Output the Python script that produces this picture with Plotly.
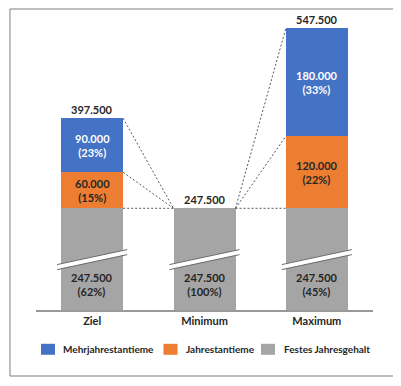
import plotly.graph_objects as go

# ---- data ----
categories = ["Ziel", "Minimum", "Maximum"]
festes_jahresgehalt = [247500, 247500, 247500]
jahrestantieme = [60000, 0, 120000]
mehrjahrestantieme = [90000, 0, 180000]
series_names = ["Mehrjahrestantieme", "Jahrestantieme", "Festes Jahresgehalt"]
axis_break = 78000          # amount hidden by the axis break in the grey segment
break_pos = 84000           # where the break mark is drawn (display units)

# ---- style ----
colors = {"Mehrjahrestantieme": "#4472C4", "Jahrestantieme": "#ED7D31", "Festes Jahresgehalt": "#A5A5A5"}
txt = "#262626"
font = "Lato"
fs = 11
bw = 0.552

def de(v):
    return f"{v:,}".replace(",", ".")

x = list(range(len(categories)))
totals = [a + b + c for a, b, c in zip(festes_jahresgehalt, jahrestantieme, mehrjahrestantieme)]
gray_disp = [v - axis_break for v in festes_jahresgehalt]

fig = go.Figure()
fig.add_bar(x=x, y=gray_disp, name="Festes Jahresgehalt", marker_color=colors["Festes Jahresgehalt"],
            width=bw, marker_line_width=0)
fig.add_bar(x=x, y=jahrestantieme, name="Jahrestantieme", marker_color=colors["Jahrestantieme"],
            width=bw, marker_line_width=0)
fig.add_bar(x=x, y=mehrjahrestantieme, name="Mehrjahrestantieme", marker_color=colors["Mehrjahrestantieme"],
            width=bw, marker_line_width=0)

ann = []
shapes = []
levels = []
for i in x:
    g = gray_disp[i]
    o = g + jahrestantieme[i]
    b = o + mehrjahrestantieme[i]
    levels.append([g, o, b])
    ann.append(dict(x=i, y=b, text=f"<b>{de(totals[i])}</b>", showarrow=False, yanchor="middle", yshift=9,
                    font=dict(family=font, size=fs, color=txt)))
    ann.append(dict(x=i, y=break_pos / 2, text=f"<b>{de(festes_jahresgehalt[i])}<br>({round(100*festes_jahresgehalt[i]/totals[i])}%)</b>",
                    showarrow=False, font=dict(family=font, size=fs, color=txt)))
    if jahrestantieme[i]:
        ann.append(dict(x=i, y=(g + o) / 2, text=f"<b>{de(jahrestantieme[i])}<br>({round(100*jahrestantieme[i]/totals[i])}%)</b>",
                        showarrow=False, font=dict(family=font, size=fs, color=txt)))
    if mehrjahrestantieme[i]:
        ann.append(dict(x=i, y=(o + b) / 2, text=f"<b>{de(mehrjahrestantieme[i])}<br>({round(100*mehrjahrestantieme[i]/totals[i])}%)</b>",
                        showarrow=False, font=dict(family=font, size=fs, color="white")))
    # break mark
    L = bw / 2 + 0.036
    d = 12500
    h = 4200
    xl, xr = i - L, i + L
    shapes.append(dict(type="path", xref="x", yref="y", line=dict(width=0), fillcolor="white",
                       path=f"M{xl},{break_pos-d-h} L{xr},{break_pos+d-h} L{xr},{break_pos+d+h} L{xl},{break_pos-d+h} Z"))
    for s in (-h, h):
        shapes.append(dict(type="line", xref="x", yref="y", x0=xl, y0=break_pos - d + s, x1=xr, y1=break_pos + d + s,
                           line=dict(color="#6b6b6b", width=1)))

# dotted connectors
for i in x[:-1]:
    for k in range(3):
        shapes.append(dict(type="line", xref="x", yref="y", x0=i + bw / 2, y0=levels[i][k],
                           x1=i + 1 - bw / 2, y1=levels[i + 1][k],
                           line=dict(color="#595959", width=1, dash="2px,2px")))

# outer border
shapes.append(dict(type="rect", xref="paper", yref="paper", x0=-0.0772, x1=1.0653, y0=-0.22, y1=1.0033,
                   line=dict(color="#7f7f7f", width=1), fillcolor="rgba(0,0,0,0)", layer="below"))

# custom legend (positions in px relative to plot-area left edge)
leg_x = [(5, 25), (127.5, 147.5), (225, 245.5)]
leg_y = -0.131
for (sx, tx), name in zip(leg_x, series_names):
    shapes.append(dict(type="rect", xref="paper", yref="paper", x0=sx / 337, x1=(sx + 14) / 337,
                       y0=leg_y - 5.5 / 300, y1=leg_y + 5.5 / 300, fillcolor=colors[name], line=dict(width=0)))
    ann.append(dict(xref="paper", yref="paper", x=tx / 337, y=leg_y, xanchor="left", yanchor="middle",
                    text=f"<b>{name}</b>", showarrow=False, font=dict(family=font, size=10, color=txt)))

fig.update_layout(
    barmode="stack", width=401, height=386, margin=dict(l=28, r=36, t=2, b=84),
    paper_bgcolor="white", plot_bgcolor="white", showlegend=False,
    annotations=ann, shapes=shapes,
    xaxis=dict(range=[-0.5, 2.5], tickvals=x, ticktext=[f"<b>{c}</b>" for c in categories],
               tickfont=dict(family=font, size=fs, color=txt), showgrid=False, zeroline=False,
               showline=True, linecolor="#999999", linewidth=1.5, ticks=""),
    yaxis=dict(range=[0, 500000], visible=False, showgrid=False, zeroline=False),
)
fig.write_html("out.html")
